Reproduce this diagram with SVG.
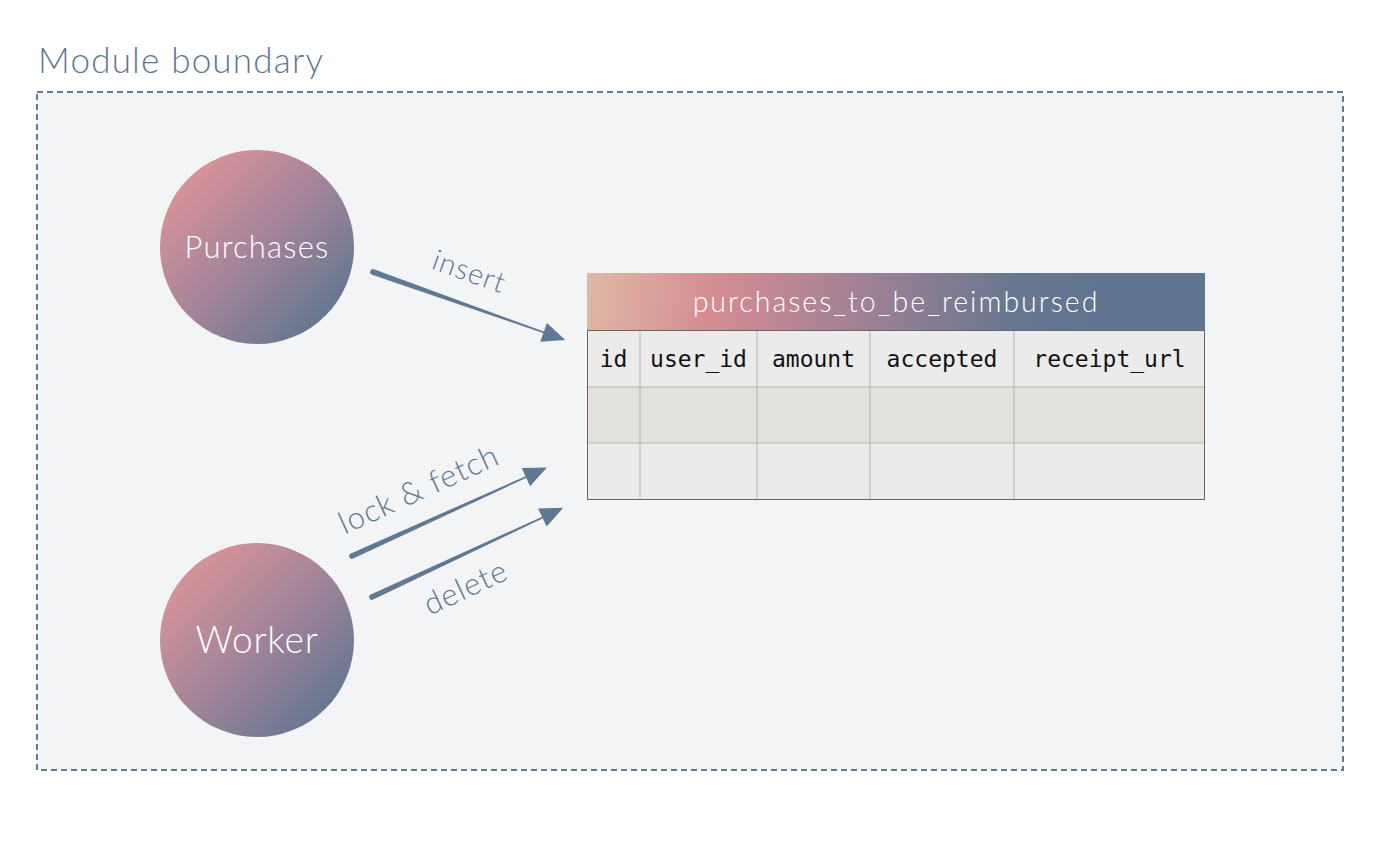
<svg xmlns="http://www.w3.org/2000/svg" width="1388" height="850" viewBox="0 0 1388 850">
<style>
.lbl{font-family:Lato,"Open Sans",sans-serif;font-weight:300;fill:#5f7893}
.node{font-family:Lato,"Open Sans",sans-serif;font-weight:300;fill:#ffffff}
.col{font-family:"DejaVu Sans Mono","Liberation Mono",monospace;font-size:23px;fill:#111111;text-anchor:middle}
.grid{stroke:#b5b5b5;stroke-width:1;fill:none}
.ink{fill:#5f7893}
</style>
<defs>
<linearGradient id="gCircle" x1="0" y1="0" x2="1" y2="1">
<stop offset="0.1" stop-color="#dc9598"/>
<stop offset="0.5" stop-color="#a4849a"/>
<stop offset="0.9" stop-color="#5f7590"/>
</linearGradient>
<linearGradient id="gHead" gradientUnits="userSpaceOnUse" x1="590" y1="255" x2="1110" y2="345">
<stop offset="0" stop-color="#e0b9a6"/>
<stop offset="0.25" stop-color="#d48c92"/>
<stop offset="0.55" stop-color="#9b8096"/>
<stop offset="0.8" stop-color="#68778f"/>
<stop offset="1" stop-color="#5f7590"/>
</linearGradient>
</defs>
<rect width="1388" height="850" fill="#ffffff"/>
<g id="boundary">
<rect x="37" y="92" width="1306" height="678" fill="#f3f4f6" stroke="#5f7893" stroke-width="2" stroke-dasharray="6,4"/>
<text class="lbl" x="38" y="73" font-size="35" letter-spacing="1.2">Module boundary</text>
</g>
<g id="purchases">
<circle cx="257" cy="247" r="97" fill="url(#gCircle)"/>
<text class="node" x="257" y="258" font-size="31" letter-spacing="1.2" text-anchor="middle">Purchases</text>
</g>
<g id="worker">
<circle cx="257" cy="640" r="97" fill="url(#gCircle)"/>
<text class="node" x="257" y="653" font-size="37" letter-spacing="0.8" text-anchor="middle">Worker</text>
</g>
<g id="table">
<rect x="587" y="273" width="618" height="57" fill="url(#gHead)"/>
<text class="node" x="896" y="312" font-size="28.5" letter-spacing="2" text-anchor="middle">purchases_to_be_reimbursed</text>
<rect x="587" y="330" width="618" height="57" fill="#ebebeb"/>
<rect x="587" y="387" width="618" height="56" fill="#e2e1dc"/>
<rect x="587" y="443" width="618" height="57" fill="#ebebeb"/>
<path class="grid" d="M640,330V500M757,330V500M870,330V500M1014,330V500M587,387H1205M587,443H1205"/>
<rect x="587.5" y="330.5" width="617" height="169" fill="none" stroke="#666666" stroke-width="1"/>
<text class="col" x="613.5" y="367">id</text>
<text class="col" x="698.5" y="367">user_id</text>
<text class="col" x="813.5" y="367">amount</text>
<text class="col" x="942" y="367">accepted</text>
<text class="col" x="1109.5" y="367">receipt_url</text>
</g>
<g id="connectors">
<g transform="translate(373,272) rotate(19.5)">
<path class="ink" d="M0,-2.8 L183,-0.8 L183,0.8 L0,2.8 A2.8,2.8 0 0 1 0,-2.8 Z"/>
<polygon class="ink" points="181,-10 204,0 181,10"/>
</g>
<g transform="translate(352,556) rotate(-24.4)">
<path class="ink" d="M0,-2.8 L193,-0.8 L193,0.8 L0,2.8 A2.8,2.8 0 0 1 0,-2.8 Z"/>
<polygon class="ink" points="191,-10 214,0 191,10"/>
</g>
<g transform="translate(372,597) rotate(-25)">
<path class="ink" d="M0,-2.8 L190,-0.8 L190,0.8 L0,2.8 A2.8,2.8 0 0 1 0,-2.8 Z"/>
<polygon class="ink" points="188,-10 211,0 188,10"/>
</g>
<text class="lbl" font-size="29" letter-spacing="1" text-anchor="middle" transform="translate(466,281) rotate(19.5)">insert</text>
<text class="lbl" font-size="31" letter-spacing="1" text-anchor="middle" transform="translate(423,499) rotate(-24.5)">lock &amp; fetch</text>
<text class="lbl" font-size="31" letter-spacing="1" text-anchor="middle" transform="translate(470,597) rotate(-25)">delete</text>
</g>
</svg>
